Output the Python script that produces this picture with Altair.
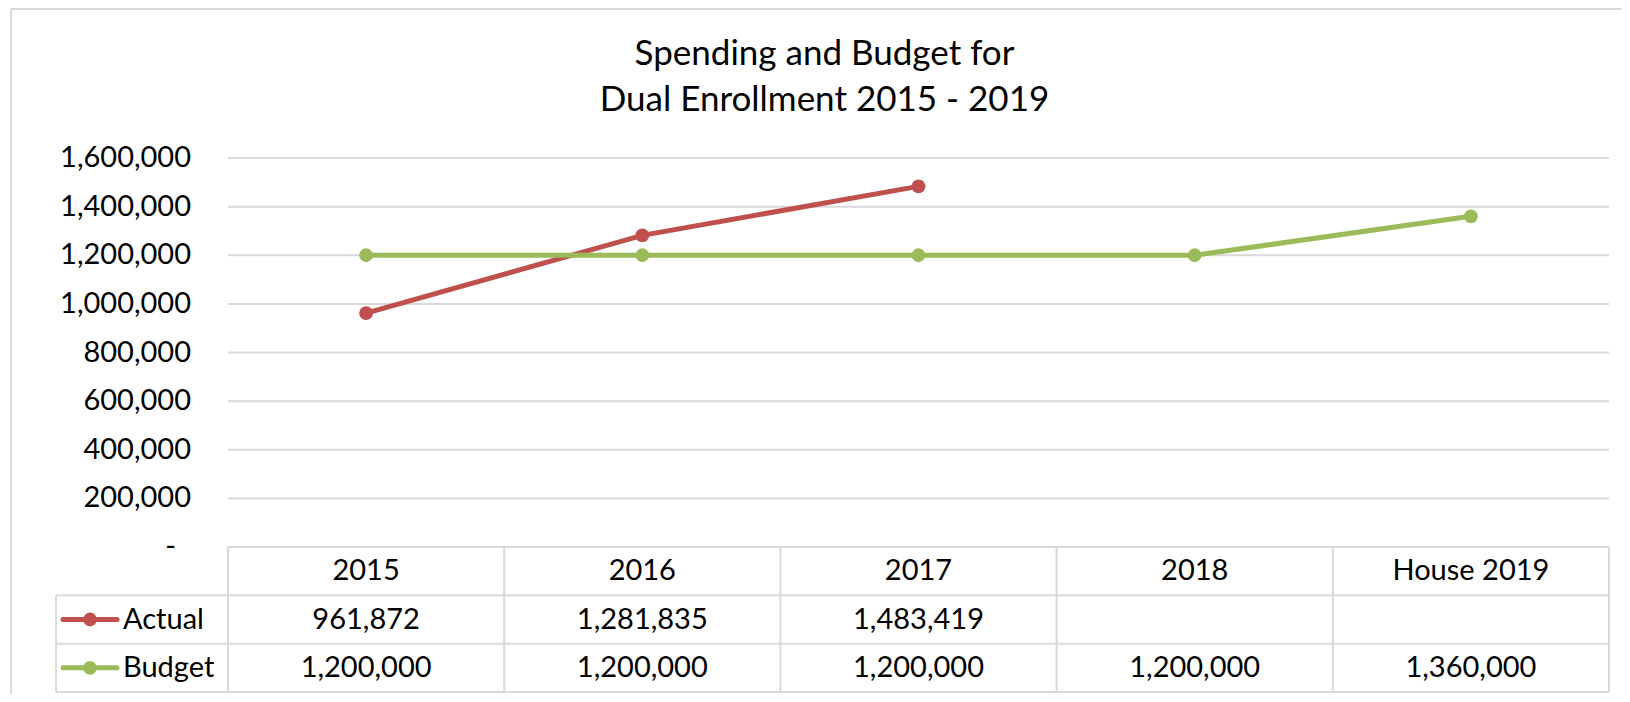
import altair as alt
import pandas as pd

# ---- data ----
CATEGORIES = ["2015", "2016", "2017", "2018", "House 2019"]
ACTUAL = [961872, 1281835, 1483419, None, None]
BUDGET = [1200000, 1200000, 1200000, 1200000, 1360000]
SERIES = ["Actual", "Budget"]
COLORS = ["#C0504D", "#9BBB59"]
Y_TICKS = [0, 200000, 400000, 600000, 800000, 1000000, 1200000, 1400000, 1600000]
TITLE = ["Spending and Budget for", "Dual Enrollment 2015 - 2019"]

# ---- layout constants ----
FONT = "Lato"
GRID = "#D9D9D9"
TXT = "#000000"
FS = 29
N = len(CATEGORIES)
COL_PX = 276.2
LEG_PX = 172.0
L = LEG_PX / COL_PX
PLOT_W = 1553
PLOT_H = 534
ZERO_PX = 389.0
Y_TOP = Y_TICKS[-1]
Y_MIN = -Y_TOP * (PLOT_H - ZERO_PX) / ZERO_PX
NROWS = 3
ROW = -Y_MIN / NROWS

X_SCALE = alt.Scale(domain=[-L, N], nice=False, zero=False)
Y_SCALE = alt.Scale(domain=[Y_MIN, Y_TOP], nice=False, zero=False)

# ---- tables ----
line_rows = []
for s, vals in zip(SERIES, [ACTUAL, BUDGET]):
    for i, (c, v) in enumerate(zip(CATEGORIES, vals)):
        if v is not None:
            line_rows.append({"series": s, "cat": c, "pos": i + 0.5, "value": v})
line_df = pd.DataFrame(line_rows)

tick_df = pd.DataFrame({"v": Y_TICKS})
grid_df = pd.DataFrame({"v": Y_TICKS[1:]})

text_rows = []
for i, c in enumerate(CATEGORIES):
    text_rows.append({"row": 1, "pos": i + 0.5, "label": c})
for r, vals in zip([2, 3], [ACTUAL, BUDGET]):
    for i, v in enumerate(vals):
        if v is not None:
            text_rows.append({"row": r, "pos": i + 0.5, "label": f"{v:,}"})
text_df = pd.DataFrame(text_rows)

seg = []
for k in range(NROWS + 1):
    seg.append({"x": 0 if k == 0 else -L, "x2": N, "r1": k, "r2": k})
for j in range(N + 1):
    seg.append({"x": j, "x2": j, "r1": 0, "r2": NROWS})
seg.append({"x": -L, "x2": -L, "r1": 1, "r2": NROWS})
seg_df = pd.DataFrame(seg)

legend_df = pd.DataFrame({"series": SERIES, "row": [2, 3]})

color = alt.Color("series:N", scale=alt.Scale(domain=SERIES, range=COLORS), legend=None)
rowcalc = f"-(datum.row - 0.5) * {ROW}"

# ---- layers ----
frame_left = alt.Chart(pd.DataFrame({"a": [0]})).mark_rule(color=GRID, strokeWidth=2).encode(
    x=alt.value(-45), y=alt.value(-149), y2=alt.value(700))
frame_top = alt.Chart(pd.DataFrame({"a": [0]})).mark_rule(color=GRID, strokeWidth=2).encode(
    x=alt.value(-45), x2=alt.value(1700), y=alt.value(-149))

grid = alt.Chart(grid_df).mark_rule(color=GRID, strokeWidth=2).encode(
    x=alt.datum(0, scale=X_SCALE, axis=None),
    x2=alt.datum(N),
    y=alt.Y("v:Q", scale=Y_SCALE, axis=None),
)

ylabels = alt.Chart(tick_df).transform_filter("datum.v != 0").transform_calculate(
    lab="format(datum.v, ',')"
).mark_text(font=FONT, fontSize=FS, color=TXT, align="right", baseline="middle", dx=-37).encode(
    x=alt.datum(0, scale=X_SCALE, axis=None),
    y=alt.Y("v:Q", scale=Y_SCALE, axis=None),
    text="lab:N",
)
zero_label = alt.Chart(tick_df).transform_filter("datum.v == 0").transform_calculate(
    lab="'-'"
).mark_text(font=FONT, fontSize=FS, color=TXT, align="right", baseline="middle", dx=-52).encode(
    x=alt.datum(0, scale=X_SCALE, axis=None),
    y=alt.Y("v:Q", scale=Y_SCALE, axis=None),
    text="lab:N",
)

borders = alt.Chart(seg_df).transform_calculate(
    y1=f"-datum.r1 * {ROW}", y2=f"-datum.r2 * {ROW}"
).mark_rule(color=GRID, strokeWidth=2).encode(
    x=alt.X("x:Q", scale=X_SCALE, axis=None),
    x2="x2:Q",
    y=alt.Y("y1:Q", scale=Y_SCALE, axis=None),
    y2="y2:Q",
)

table_text = alt.Chart(text_df).transform_calculate(yc=rowcalc).mark_text(
    font=FONT, fontSize=FS, color=TXT, align="center", baseline="middle"
).encode(
    x=alt.X("pos:Q", scale=X_SCALE, axis=None),
    y=alt.Y("yc:Q", scale=Y_SCALE, axis=None),
    text="label:N",
)

lines = alt.Chart(line_df).mark_line(strokeWidth=5, strokeCap="round").encode(
    x=alt.X("pos:Q", scale=X_SCALE, axis=None),
    y=alt.Y("value:Q", scale=Y_SCALE, axis=None),
    color=color,
)
points = alt.Chart(line_df).mark_point(filled=True, size=190, opacity=1).encode(
    x=alt.X("pos:Q", scale=X_SCALE, axis=None),
    y=alt.Y("value:Q", scale=Y_SCALE, axis=None),
    color=color,
)

leg_line = alt.Chart(legend_df).transform_calculate(yc=rowcalc).mark_rule(
    strokeWidth=5, strokeCap="round", xOffset=7, x2Offset=61
).encode(
    x=alt.datum(-L, scale=X_SCALE, axis=None), x2=alt.datum(-L),
    y=alt.Y("yc:Q", scale=Y_SCALE, axis=None),
    color=color,
)
leg_point = alt.Chart(legend_df).transform_calculate(yc=rowcalc).mark_point(
    filled=True, size=190, opacity=1, xOffset=34
).encode(
    x=alt.datum(-L, scale=X_SCALE, axis=None),
    y=alt.Y("yc:Q", scale=Y_SCALE, axis=None),
    color=color,
)
leg_text = alt.Chart(legend_df).transform_calculate(yc=rowcalc).mark_text(
    font=FONT, fontSize=FS, color=TXT, align="left", baseline="middle", dx=67
).encode(
    x=alt.datum(-L, scale=X_SCALE, axis=None),
    y=alt.Y("yc:Q", scale=Y_SCALE, axis=None),
    text="series:N",
)

chart = alt.layer(
    frame_left, frame_top, grid, ylabels, zero_label, borders, table_text, lines, points,
    leg_line, leg_point, leg_text
).properties(
    width=PLOT_W,
    height=PLOT_H,
    background="white",
    padding={"left": 48, "top": 150, "right": 13, "bottom": 2},
    autosize=alt.AutoSizeParams(type="none"),
    title=alt.TitleParams(text=TITLE, font=FONT, fontSize=35, fontWeight="normal",
                          color=TXT, anchor="middle", frame="group", offset=-110,
                          lineHeight=46, dx=-8),
).configure_view(stroke="transparent", strokeWidth=0)

chart.save("out.html", embed_options={"renderer": "svg", "actions": False})
